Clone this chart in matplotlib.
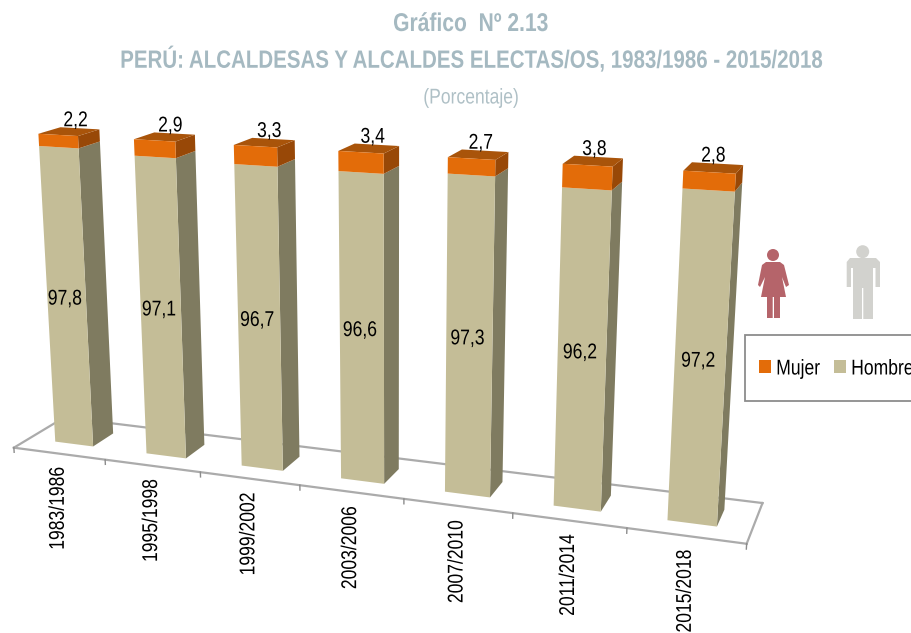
import matplotlib
matplotlib.use("Agg")
import matplotlib.pyplot as plt
import numpy as np
from matplotlib.patches import Polygon, Rectangle, Circle, Patch
from matplotlib.patheffects import AbstractPathEffect
from matplotlib.transforms import Affine2D, Transform

periodos = ["1983/1986", "1995/1998", "1999/2002", "2003/2006", "2007/2010", "2011/2014", "2015/2018"]
mujer = [2.2, 2.9, 3.3, 3.4, 2.7, 3.8, 2.8]
hombre = [97.8, 97.1, 96.7, 96.6, 97.3, 96.2, 97.2]
etiq_mujer = ["2,2", "2,9", "3,3", "3,4", "2,7", "3,8", "2,8"]
etiq_hombre = ["97,8", "97,1", "96,7", "96,6", "97,3", "96,2", "97,2"]

FONT = "Liberation Sans"
VMIN = 42    # the value axis does not start at 0
ANCHO = 0.42 # bar width in category units
D1, D2 = 0.30, 0.72 # bar front and back, floor depth goes 0..1

# calibration of the 3d view: (category pos, value, depth) -> pixel
izq = [i + 0.5 - ANCHO / 2 for i in range(7)]
der = [i + 0.5 + ANCHO / 2 for i in range(7)]
calib = [(0, VMIN, 0, 14, 448.3), (7, VMIN, 0, 745.7, 544), (0, VMIN, 1, 64.7, 417), (7, VMIN, 1, 763.3, 502.7)]
top_izq = [(39, 133), (134.7, 139.3), (234.3, 145), (339, 151), (449, 157), (563, 164), (685, 170.7)]
top_der = [(77.3, 135.7), (175, 141.7), (276.7, 147.3), (384, 154), (495, 160), (610, 166), (736, 173)]
base_izq = [(55, 441.7), (146.7, 453.3), (242.3, 465.7), (342.3, 479), (445, 491.7), (555, 506.7), (668.3, 520.7)]
base_der = [(92.7, 446), (185, 458.3), (283.3, 470.7), (383.3, 483.3), (489.3, 497.3), (600, 510.7), (716.7, 526)]
base_atras = [(112.7, 432.7), (204, 445), (299, 456.7), (401, 469), (501.7, 481.7), (610, 496.7), (724, 510)]
for i in range(7):
    calib.append((izq[i], 100, D1, *top_izq[i]))
    calib.append((der[i], 100, D1, *top_der[i]))
    calib.append((izq[i], VMIN, D1, *base_izq[i]))
    calib.append((der[i], VMIN, D1, *base_der[i]))
    calib.append((der[i], VMIN, D2, *base_atras[i]))
calib.append((der[0], 100, D2, 99, 130.7))
calib.append((der[1], 100, D2, 194, 135))
calib.append((der[6], 100, D2, 742.7, 165))

A = []
b = []
for u, v, d, px, py in calib:
    X = [u, v / 100.0, d, 1.0]
    A.append(X + [0, 0, 0, 0] + [-px * c for c in X[:3]])
    b.append(px)
    A.append([0, 0, 0, 0] + X + [-py * c for c in X[:3]])
    b.append(py)
sol = np.linalg.lstsq(np.array(A), np.array(b), rcond=None)[0]
P = np.append(sol, 1.0).reshape(3, 4)


class Vista3D(Transform):
    # (category, value) at a fixed depth -> pixel position
    input_dims = 2
    output_dims = 2
    is_separable = False

    def __init__(self, prof):
        super().__init__()
        self.prof = prof

    def transform_non_affine(self, values):
        values = np.asarray(values, dtype=float)
        X = np.column_stack([values[:, 0], values[:, 1] / 100.0,
                             np.full(len(values), self.prof), np.ones(len(values))])
        h = X @ P.T
        return h[:, :2] / h[:, 2:3]


class Angosta(AbstractPathEffect):
    # the reference uses a narrow font, no narrow one is installed so squeeze the glyphs
    def __init__(self, fx=0.82, centro=True):
        super().__init__()
        self.fx = fx
        self.centro = centro

    def draw_path(self, renderer, gc, tpath, affine, rgbFace=None):
        ext = tpath.get_extents()
        mx = (ext.x0 + ext.x1) / 2 if self.centro else ext.x0
        comp = Affine2D().translate(-mx, 0).scale(self.fx, 1).translate(mx, 0) + affine
        renderer.draw_path(gc, tpath, comp, rgbFace)


NARROW = [Angosta()]

fig = plt.figure(figsize=(9.12, 6.33), dpi=100)
ax = fig.add_axes([0, 0, 1, 1])
ax.set_xlim(0, 912)
ax.set_ylim(633, 0)
ax.axis("off")

frente = Vista3D(0) + ax.transData
fondo = Vista3D(1) + ax.transData
cara = Vista3D(D1) + ax.transData
atras = Vista3D(D2) + ax.transData
GRIS = "#ABABAB"


def a_datos(trans, u, v):
    return ax.transData.inverted().transform(trans.transform((u, v)))


# floor
ax.plot([0, 7], [VMIN, VMIN], color=GRIS, lw=1.6, transform=frente, zorder=1)
ax.plot([0, 7], [VMIN, VMIN], color=GRIS, lw=1.6, transform=fondo, zorder=1)
for k in [0, 7]:
    q0 = a_datos(frente, k, VMIN)
    q1 = a_datos(fondo, k, VMIN)
    ax.plot([q0[0], q1[0]], [q0[1], q1[1]], color=GRIS, lw=1.6, zorder=1)
for k in range(8):
    ax.plot([k, k], [VMIN, VMIN - 0.9], color="#8C8C8C", lw=1, transform=frente, zorder=1)

for i in range(7):
    z = 3 + i
    h = hombre[i]
    tope = h + mujer[i]
    for v0, v1, c_f, c_s in [(VMIN, h, "#C4BD97", "#7F7B60"), (h, tope, "#E36C09", "#984807")]:
        # side face goes between two depths so it is built from the projected corners
        lado = [a_datos(cara, der[i], v0), a_datos(atras, der[i], v0), a_datos(atras, der[i], v1), a_datos(cara, der[i], v1)]
        ax.add_patch(Polygon(lado, closed=True, facecolor=c_s, edgecolor="none", zorder=z))
        pts = np.column_stack([[izq[i], der[i], der[i], izq[i]], [v0, v0, v1, v1]])
        ax.add_patch(Polygon(pts, closed=True, facecolor=c_f, edgecolor="none", transform=cara, zorder=z + 0.1))
    techo = [a_datos(cara, izq[i], tope), a_datos(cara, der[i], tope), a_datos(atras, der[i], tope), a_datos(atras, izq[i], tope)]
    ax.add_patch(Polygon(techo, closed=True, facecolor="#A9540A", edgecolor="none", zorder=z))

    ax.annotate(etiq_hombre[i], xy=(i + 0.5, (VMIN + h) / 2), xycoords=cara, xytext=(-1.3, 0), textcoords="offset points",
                ha="center", va="center", family=FONT, fontsize=15.4, color="black", zorder=20, path_effects=NARROW)
    ax.annotate(etiq_mujer[i], xy=(i + 0.5, tope), xycoords=atras, xytext=(-3, -1.4), textcoords="offset points",
                ha="center", va="bottom", family=FONT, fontsize=15.4, color="black", zorder=20, path_effects=NARROW)
    ax.annotate(periodos[i], xy=(i + 0.5, VMIN), xycoords=frente, xytext=(-0.5, -3.2), textcoords="offset points",
                ha="center", va="top", rotation=90, family=FONT, fontsize=15.4, color="black", zorder=20,
                path_effects=NARROW)

# titles
TIT = "#A5B9C1"
ax.text(471, 24, "Gráfico  Nº 2.13", ha="center", va="center", family=FONT, fontsize=18.5, fontweight="bold",
        color=TIT, path_effects=NARROW)
ax.text(471, 59, "PERÚ: ALCALDESAS Y ALCALDES ELECTAS/OS, 1983/1986 - 2015/2018", ha="center", va="center",
        family=FONT, fontsize=18, fontweight="bold", color=TIT, path_effects=NARROW)
ax.text(471, 98, "(Porcentaje)", ha="center", va="center", family=FONT, fontsize=15.4, color="#AFC0C6",
        path_effects=NARROW)

# pictograms
ROJO = "#B5646A"
ax.add_patch(Circle((773, 255), 6, color=ROJO, lw=0))
ax.add_patch(Polygon([(766, 262), (780, 262), (784, 265), (789, 285), (786, 287), (782, 277), (786, 297),
                      (780, 297), (780, 318), (774, 318), (774, 297), (772.7, 297), (772.7, 318), (767, 318),
                      (767, 297), (761, 297), (765, 277), (760, 287), (758, 285), (762, 265)],
                     closed=True, facecolor=ROJO, edgecolor="none"))
GR2 = "#D2D2CE"
ax.add_patch(Circle((862.7, 251.7), 6.5, color=GR2, lw=0))
ax.add_patch(Polygon([(850, 258), (876, 258), (880, 262), (880, 287), (875.5, 287), (875.5, 268), (873, 268),
                      (873, 319), (863.3, 319), (863.3, 288), (862, 288), (862, 319), (853, 319), (853, 268),
                      (851, 268), (851, 287), (846.7, 287), (846.7, 262)],
                     closed=True, facecolor=GR2, edgecolor="none"))

# legend
ax.add_patch(Rectangle((745, 334.5), 200, 66.5, facecolor="white", edgecolor="#8C8C8C", lw=1.3, zorder=15))
handles = [Patch(facecolor="#E36C09", label="Mujer"), Patch(facecolor="#C4BD97", label="Hombre")]
leg = ax.legend(handles=handles, ncol=2, loc="center left", bbox_to_anchor=(759 / 912, 1 - 369 / 633),
                bbox_transform=ax.transAxes, frameon=False, prop={"family": FONT, "size": 15.4},
                handlelength=0.56, handleheight=0.56, handletextpad=0.23, columnspacing=0.22,
                borderpad=0, borderaxespad=0)
leg.set_zorder(16)
for t in leg.get_texts():
    t.set_path_effects([Angosta(centro=False)])

fig.savefig("out.png", dpi=100)
